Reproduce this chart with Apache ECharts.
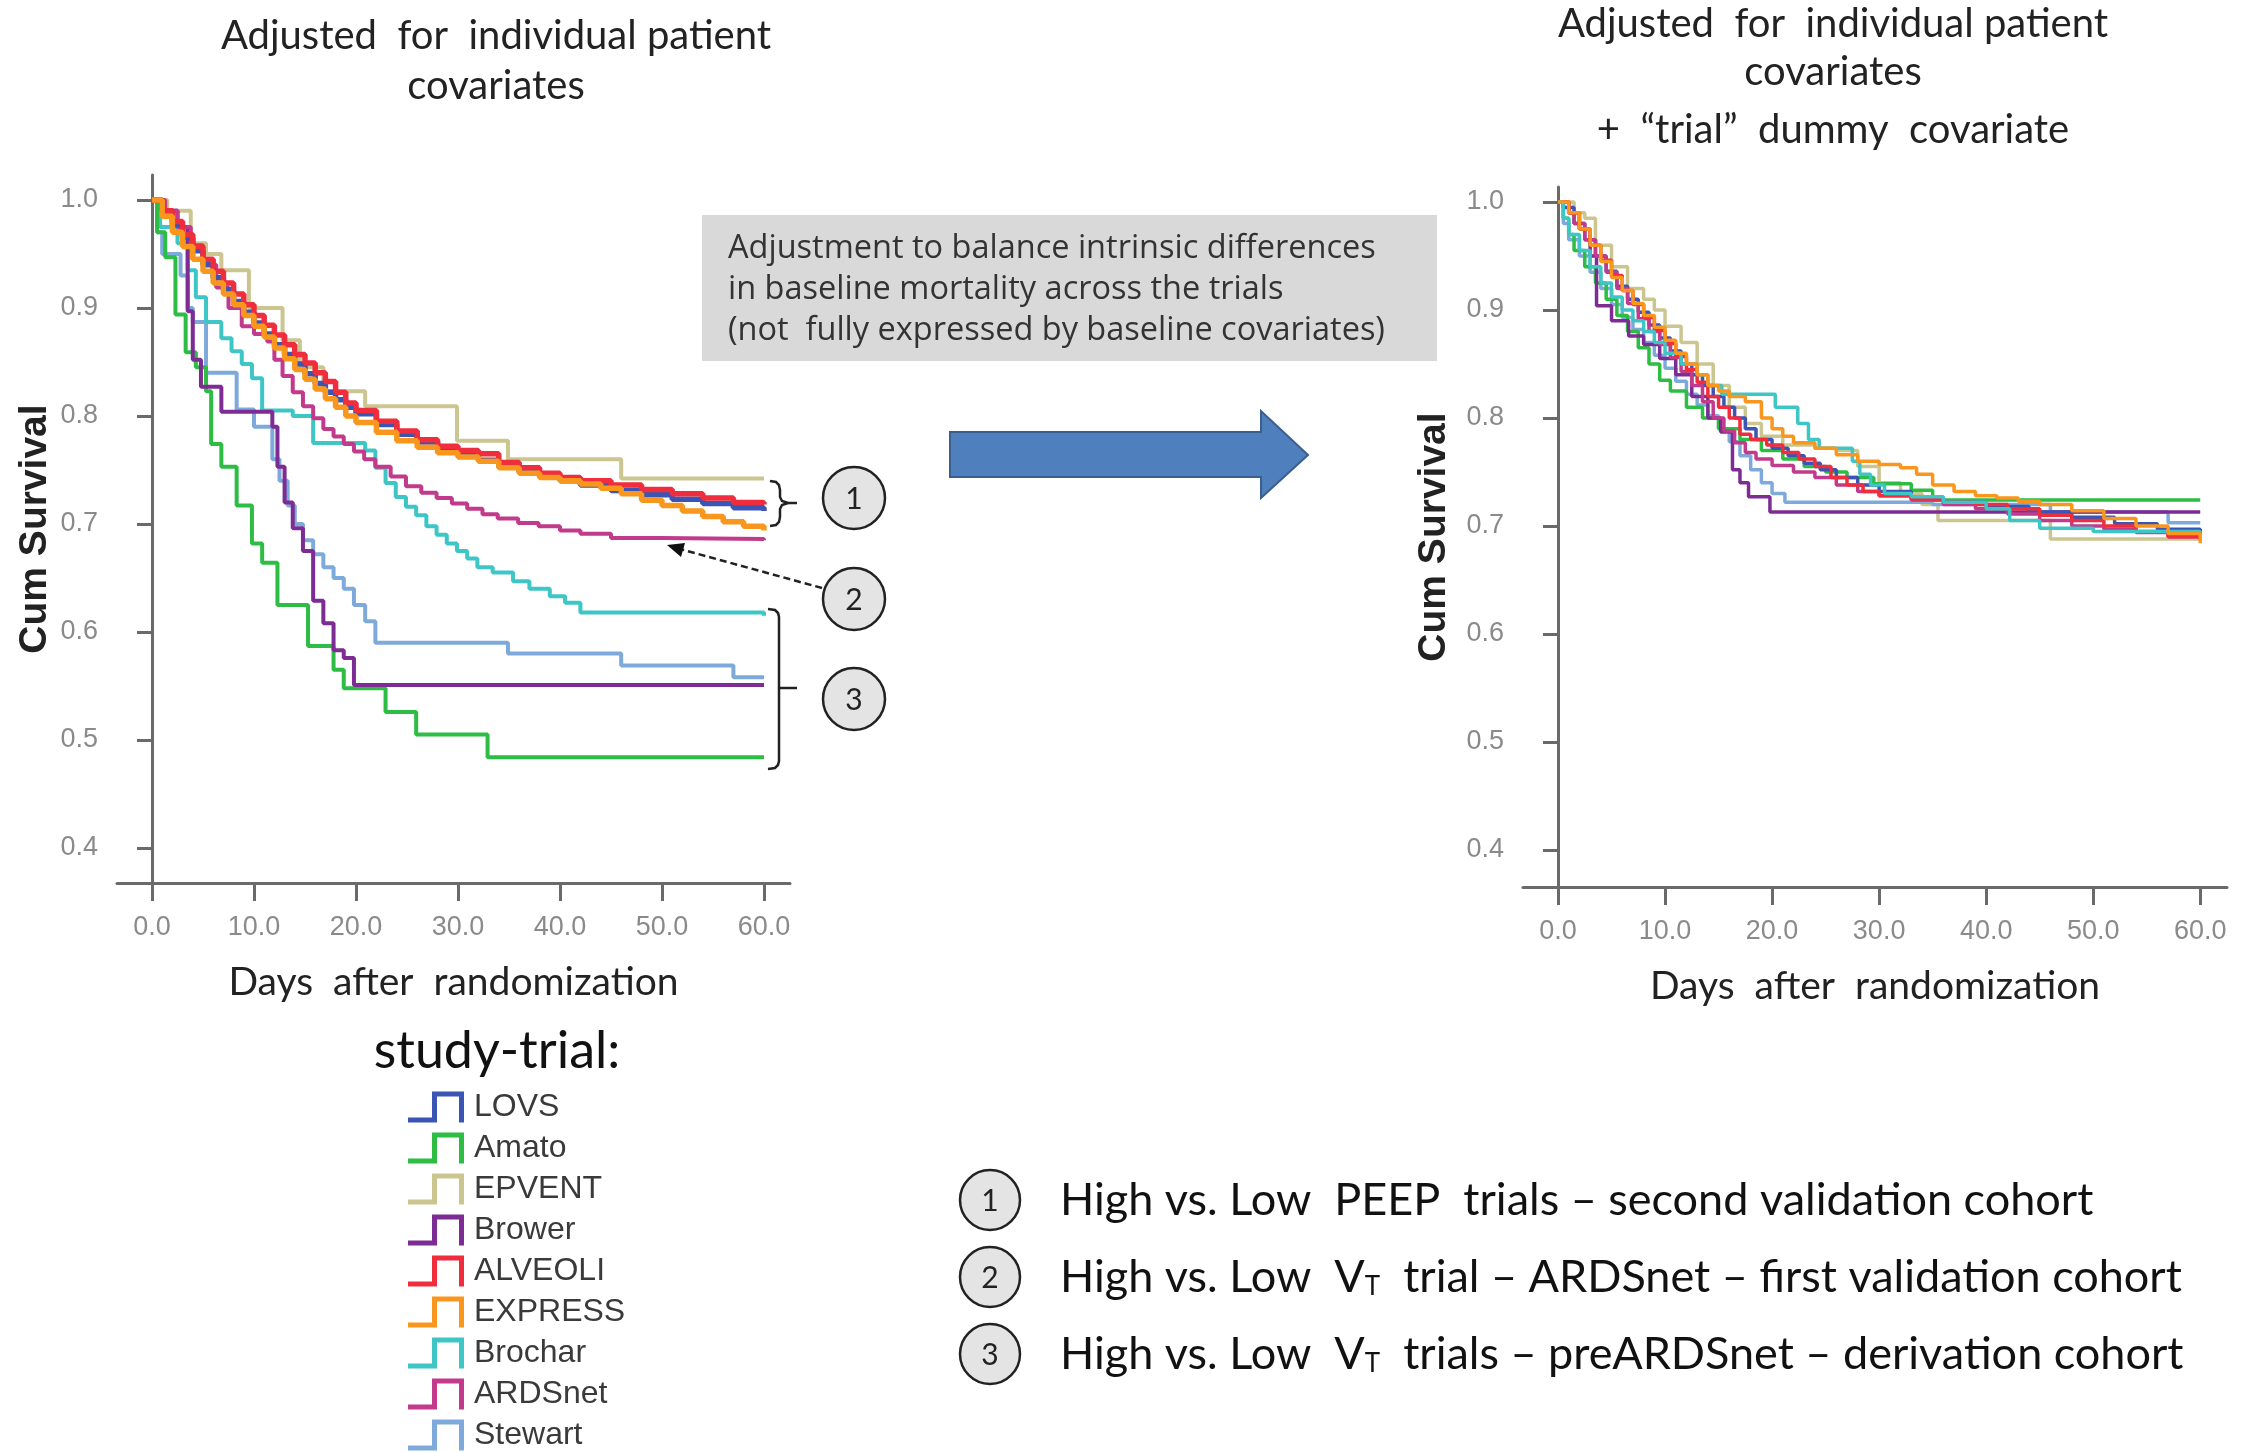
<!DOCTYPE html>
<html>
<head>
<meta charset="UTF-8">
<title>Cum Survival by study-trial</title>
<script src="https://cdn.jsdelivr.net/npm/echarts@6/dist/echarts.min.js"></script>
<style>
html,body{margin:0;padding:0;background:#fff;}
#main{width:2246px;height:1453px;}
</style>
</head>
<body>
<div id="main"></div>
<script>
// study-trial names and their colours
var trials = ['LOVS', 'Amato', 'EPVENT', 'Brower', 'ALVEOLI', 'EXPRESS', 'Brochar', 'ARDSnet', 'Stewart'];
var colors = {
  LOVS: '#3b55b5', Amato: '#2dbd45', EPVENT: '#cbc58f', Brower: '#7d2c93', ALVEOLI: '#ef2d3c',
  EXPRESS: '#f8961e', Brochar: '#3ec6c6', ARDSnet: '#c23a8c', Stewart: '#7eaadb'
};
var dayTicks = [0, 10, 20, 30, 40, 50, 60];
var survTicks = [0.4, 0.5, 0.6, 0.7, 0.8, 0.9, 1.0];

// left panel: adjusted for individual patient covariates  [day, cum survival]
var leftLOVS = [[0,1],[1,0.99],[2,0.977],[3,0.965],[4,0.953],[5,0.94],[6,0.928],[7,0.917],[8,0.906],[9,0.896],[10,0.886],[11,0.876],[12,0.866],[13,0.857],[14,0.848],[15,0.839],[16,0.83],[17,0.822],[18,0.815],[19,0.808],[20,0.802],[22,0.792],[24,0.783],[26,0.776],[28,0.77],[30,0.765],[32,0.759],[34,0.753],[36,0.748],[38,0.744],[40,0.74],[42,0.736],[45,0.731],[48,0.727],[51,0.723],[54,0.719],[57,0.715],[60,0.712]];
var leftAmato = [[0,1],[0.5,0.97],[1.3,0.947],[2.3,0.894],[3.3,0.859],[4.3,0.845],[5.3,0.823],[5.8,0.774],[6.8,0.753],[8.3,0.717],[9.8,0.682],[10.8,0.664],[12.3,0.625],[15.3,0.587],[17.8,0.565],[18.8,0.548],[22.9,0.526],[25.9,0.505],[32.9,0.484],[60,0.484]];
var leftEPVENT = [[0,1],[1.5,0.99],[3.8,0.96],[5.3,0.95],[6.8,0.935],[9.5,0.9],[12.8,0.87],[14.5,0.845],[16.8,0.823],[20.9,0.809],[29.9,0.777],[34.9,0.76],[46,0.742],[60,0.742]];
var leftBrower = [[0,1],[1,0.99],[2.5,0.975],[3.5,0.897],[4,0.852],[4.8,0.827],[6.8,0.804],[11.8,0.79],[12.3,0.753],[13,0.72],[13.8,0.696],[14.8,0.675],[15.8,0.629],[16.8,0.608],[17.8,0.583],[18.8,0.576],[19.8,0.551],[60,0.551]];
var leftALVEOLI = [[0,1],[1,0.99],[2,0.98],[3,0.968],[4,0.957],[5,0.945],[6,0.934],[7,0.923],[8,0.913],[9,0.903],[10,0.893],[11,0.884],[12,0.875],[13,0.866],[14,0.857],[15,0.849],[16,0.84],[17,0.832],[18,0.822],[19,0.812],[20,0.805],[22,0.795],[24,0.786],[26,0.778],[28,0.772],[30,0.768],[32,0.765],[34,0.757],[36,0.752],[38,0.747],[40,0.743],[42,0.74],[45,0.736],[48,0.732],[51,0.728],[54,0.724],[57,0.72],[60,0.718]];
var leftEXPRESS = [[0,1],[1,0.985],[2,0.97],[3,0.957],[4,0.945],[5,0.934],[6,0.923],[7,0.913],[8,0.903],[9,0.893],[10,0.883],[11,0.873],[12,0.863],[13,0.853],[14,0.843],[15,0.834],[16,0.825],[17,0.816],[18,0.808],[19,0.8],[20,0.794],[22,0.785],[24,0.777],[26,0.771],[28,0.766],[30,0.762],[32,0.758],[34,0.752],[36,0.747],[38,0.743],[40,0.74],[42,0.737],[44,0.733],[46,0.728],[48,0.722],[50,0.717],[52,0.712],[54,0.707],[56,0.702],[58,0.698],[60,0.694]];
var leftBrochar = [[0,1],[0.8,0.975],[2.5,0.96],[3.5,0.935],[4.3,0.91],[5.3,0.887],[6.8,0.872],[7.8,0.86],[8.8,0.848],[9.8,0.835],[10.8,0.805],[13.8,0.8],[15.8,0.775],[20.9,0.768],[21.9,0.752],[22.9,0.738],[23.9,0.725],[24.9,0.716],[25.9,0.708],[26.9,0.698],[27.9,0.69],[28.9,0.682],[29.9,0.675],[30.9,0.668],[31.9,0.66],[33.4,0.655],[35.4,0.647],[37,0.64],[39,0.633],[40.5,0.627],[42,0.618],[60,0.615]];
var leftARDSnet = [[0,1],[1.3,0.99],[2.5,0.975],[3.8,0.958],[5,0.94],[6.3,0.919],[7.5,0.9],[8.8,0.883],[10,0.876],[11.3,0.869],[12,0.852],[12.8,0.837],[13.8,0.822],[14.8,0.809],[15.8,0.798],[16.8,0.788],[17.8,0.781],[18.8,0.774],[19.8,0.767],[20.8,0.76],[21.9,0.753],[23.4,0.744],[24.9,0.735],[26.4,0.729],[27.9,0.724],[29.4,0.719],[30.9,0.714],[32.4,0.709],[33.9,0.705],[35.9,0.701],[37.9,0.698],[40,0.694],[42,0.691],[45,0.687],[50,0.686],[60,0.685]];
var leftStewart = [[0,1],[0.5,0.97],[1,0.95],[2.8,0.93],[3.5,0.9],[4,0.887],[5.3,0.84],[8.3,0.806],[10,0.79],[11.8,0.76],[12.5,0.74],[13.3,0.717],[14,0.7],[14.8,0.685],[15.8,0.672],[16.8,0.66],[17.8,0.65],[18.8,0.64],[19.8,0.625],[20.9,0.61],[21.9,0.59],[34.9,0.58],[46,0.569],[57,0.558],[60,0.558]];

// right panel: adjusted for covariates + "trial" dummy covariate
var rightLOVS = [[0,1],[0.5,0.995],[1.5,0.98],[2.5,0.965],[3.5,0.95],[4.5,0.936],[5.5,0.922],[6.5,0.91],[7.5,0.898],[8.5,0.886],[9.5,0.874],[10.5,0.862],[11.5,0.85],[12.5,0.84],[13.5,0.83],[14.5,0.82],[15.5,0.81],[16.5,0.8],[17.5,0.79],[18.5,0.78],[20,0.772],[21.5,0.765],[23,0.758],[24.5,0.752],[26,0.745],[28,0.738],[30,0.732],[33,0.726],[36,0.722],[40,0.718],[44,0.713],[48,0.708],[52,0.702],[56,0.697],[60,0.693]];
var rightAmato = [[0,1],[0.5,0.985],[1,0.97],[1.5,0.955],[2.5,0.94],[3.5,0.925],[4.5,0.91],[5.5,0.895],[6.5,0.88],[7.5,0.865],[8.5,0.85],[9.5,0.835],[10.5,0.825],[12,0.81],[13.5,0.8],[15,0.79],[17,0.78],[19,0.77],[21,0.762],[23,0.755],[25,0.75],[27,0.745],[29.5,0.739],[33,0.733],[35,0.724],[60,0.724]];
var rightEPVENT = [[0,1],[1.5,0.99],[2.5,0.985],[3.5,0.96],[5,0.94],[6.5,0.92],[8,0.91],[9,0.9],[10,0.885],[11.5,0.87],[13,0.85],[14.5,0.83],[16,0.81],[17.5,0.795],[19,0.783],[21,0.775],[24,0.772],[26,0.77],[28,0.755],[30,0.74],[32,0.73],[34,0.72],[35.5,0.705],[46,0.688],[60,0.686]];
var rightBrower = [[0,1],[1,0.99],[2,0.975],[3,0.95],[3.6,0.904],[5,0.89],[6.6,0.876],[8,0.868],[9.5,0.855],[11,0.84],[12.5,0.82],[14,0.8],[15.2,0.787],[16.3,0.752],[17,0.74],[17.8,0.727],[19.8,0.713],[60,0.713]];
var rightALVEOLI = [[0,1],[1,0.99],[2,0.975],[3,0.96],[4,0.946],[5,0.932],[6,0.918],[7,0.905],[8,0.893],[9,0.881],[10,0.869],[11,0.857],[12,0.845],[13,0.833],[14,0.82],[15,0.81],[16,0.8],[17,0.785],[18,0.78],[19.5,0.775],[21,0.768],[22.5,0.762],[24,0.755],[25.5,0.745],[27,0.738],[28.5,0.732],[30,0.728],[33,0.725],[36,0.722],[39,0.72],[42,0.716],[45,0.71],[48,0.705],[51,0.7],[54,0.695],[57,0.69],[60,0.687]];
var rightEXPRESS = [[0,1],[1,0.99],[2,0.975],[3,0.96],[4,0.945],[5,0.93],[6,0.918],[7,0.906],[8,0.895],[9,0.884],[10,0.872],[11,0.86],[12,0.85],[13,0.84],[14,0.83],[15,0.825],[16,0.82],[17.5,0.815],[19,0.8],[20,0.79],[21,0.783],[22,0.777],[24,0.772],[26,0.766],[28,0.76],[30,0.757],[32,0.754],[33.5,0.748],[35,0.738],[37,0.732],[39,0.728],[41,0.726],[43,0.723],[45,0.72],[48,0.714],[51,0.707],[54,0.7],[57,0.693],[60,0.684]];
var rightBrochar = [[0,1],[0.5,0.985],[1,0.97],[2,0.955],[3,0.94],[4,0.925],[5,0.912],[6,0.9],[7,0.89],[8,0.88],[9,0.87],[10,0.86],[11.5,0.85],[13,0.84],[14,0.83],[15.3,0.822],[20.3,0.81],[22.4,0.795],[23.4,0.78],[24.4,0.772],[27.5,0.76],[28.2,0.748],[29.2,0.738],[30.5,0.73],[33,0.727],[36,0.722],[40,0.716],[42.2,0.705],[45,0.698],[50,0.695],[60,0.694]];
var rightARDSnet = [[0,1],[1,0.99],[1.5,0.98],[2.5,0.965],[3.5,0.95],[4.5,0.935],[5.5,0.92],[6.5,0.906],[7.5,0.892],[8.5,0.88],[9.5,0.868],[10.5,0.856],[11.5,0.843],[12.5,0.83],[13.5,0.815],[14.5,0.8],[15.5,0.788],[16.5,0.777],[17.5,0.768],[18.5,0.762],[20,0.756],[22,0.75],[24,0.745],[26,0.738],[28,0.732],[30,0.728],[33,0.724],[36,0.72],[39,0.716],[42,0.711],[45,0.705],[48,0.7],[51,0.697],[54,0.694],[57,0.69],[60,0.688]];
var rightStewart = [[0,1],[0.5,0.98],[1,0.965],[2,0.95],[3,0.935],[4,0.92],[5,0.905],[6,0.893],[7,0.882],[8,0.87],[9,0.858],[10,0.846],[11,0.834],[12,0.822],[13,0.812],[14,0.802],[15,0.79],[16,0.778],[17,0.765],[18,0.752],[19,0.74],[20,0.73],[21.2,0.722],[35,0.72],[46,0.713],[57,0.703],[60,0.703]];

var leftData = {LOVS: leftLOVS, Amato: leftAmato, EPVENT: leftEPVENT, Brower: leftBrower, ALVEOLI: leftALVEOLI,
  EXPRESS: leftEXPRESS, Brochar: leftBrochar, ARDSnet: leftARDSnet, Stewart: leftStewart};
var rightData = {LOVS: rightLOVS, Amato: rightAmato, EPVENT: rightEPVENT, Brower: rightBrower, ALVEOLI: rightALVEOLI,
  EXPRESS: rightEXPRESS, Brochar: rightBrochar, ARDSnet: rightARDSnet, Stewart: rightStewart};
// drawing order (last on top)
var leftOrder = ['EPVENT', 'Stewart', 'Brochar', 'Amato', 'Brower', 'ARDSnet', 'LOVS', 'ALVEOLI', 'EXPRESS'];
var rightOrder = ['EPVENT', 'Stewart', 'Amato', 'Brower', 'LOVS', 'ARDSnet', 'ALVEOLI', 'Brochar', 'EXPRESS'];

var calibri = 'Lato, "Noto Sans", sans-serif';
var arial = '"Liberation Sans", Arial, sans-serif';
var narrow = '"Liberation Sans Narrow", "Liberation Sans", sans-serif';

function makeX(idx, min, max) {
  return {
    type: 'value', gridIndex: idx, min: min, max: max,
    name: 'Days  after  randomization', nameLocation: 'middle', nameGap: 80,
    nameTextStyle: {fontFamily: calibri, fontSize: 39, color: '#222'},
    axisLine: {lineStyle: {color: '#6a6a6a', width: 3}},
    axisTick: {show: true, customValues: dayTicks, length: 18, lineStyle: {color: '#6a6a6a', width: 3}},
    axisLabel: {customValues: dayTicks, margin: 31, fontFamily: narrow, fontSize: 27, color: '#8a8a8a',
      formatter: function (v) { return v.toFixed(1); }},
    splitLine: {show: false}
  };
}
function makeY(idx, min, max, gap) {
  return {
    type: 'value', gridIndex: idx, min: min, max: max,
    name: 'Cum Survival', nameLocation: 'middle', nameRotate: 90, nameGap: gap,
    nameTextStyle: {fontFamily: arial, fontSize: 39, fontWeight: 'bold', color: '#222'},
    axisLine: {show: true, lineStyle: {color: '#6a6a6a', width: 3}},
    axisTick: {show: true, customValues: survTicks, length: 15, lineStyle: {color: '#6a6a6a', width: 3}},
    axisLabel: {customValues: survTicks, margin: 19, fontFamily: narrow, fontSize: 27, color: '#8a8a8a',
      formatter: function (v) { return v.toFixed(1); }},
    splitLine: {show: false}
  };
}

var series = [];
leftOrder.forEach(function (name) {
  var wide = (name === 'LOVS' || name === 'ALVEOLI' || name === 'EXPRESS');
  series.push({name: name, type: 'line', step: 'end', xAxisIndex: 0, yAxisIndex: 0, data: leftData[name],
    showSymbol: false, color: colors[name], lineStyle: {width: wide ? 5.5 : 4, color: colors[name]}, silent: true});
});
rightOrder.forEach(function (name) {
  series.push({name: name, type: 'line', step: 'end', xAxisIndex: 1, yAxisIndex: 1, data: rightData[name],
    showSymbol: false, color: colors[name], lineStyle: {width: 3.5, color: colors[name]}, silent: true});
});

// step-shaped legend marker
var stepIcon = 'path://M0,26 L24,26 L24,0 L56,0 L56,31 L51,31 L51,5 L29,5 L29,31 L0,31 Z';

function circleNum(cx, cy, r, label) {
  return [
    {type: 'circle', shape: {cx: cx, cy: cy, r: r}, style: {fill: '#e4e4e4', stroke: '#222', lineWidth: 2.5}},
    {type: 'text', x: cx, y: cy + 1, style: {text: label, fontFamily: calibri, fontSize: 30, fill: '#222',
      align: 'center', verticalAlign: 'middle'}}
  ];
}
function textAt(x, y, str, size, align, extra) {
  var st = {text: str, fontFamily: calibri, fontSize: size, fill: '#222', align: align, verticalAlign: 'middle'};
  if (extra) { for (var k in extra) st[k] = extra[k]; }
  return {type: 'text', x: x, y: y, style: st};
}
function polyline(pts) {
  return {type: 'polyline', shape: {points: pts}, style: {fill: null, stroke: '#222', lineWidth: 2.5}};
}

var boxFont = {fontFamily: '"Open Sans", sans-serif', fill: '#333'};
var graphics = [
  // panel titles
  textAt(496, 36, 'Adjusted  for  individual patient', 40, 'center'),
  textAt(496, 86, 'covariates', 40, 'center'),
  textAt(1833, 24, 'Adjusted  for  individual patient', 40, 'center'),
  textAt(1833, 72, 'covariates', 40, 'center'),
  textAt(1833, 130, '+  \u201ctrial\u201d  dummy  covariate', 40, 'center'),
  // grey note box
  {type: 'rect', shape: {x: 702, y: 215, width: 735, height: 146}, style: {fill: '#d9d9d9'}},
  textAt(728, 249, 'Adjustment to balance intrinsic differences', 32.5, 'left', boxFont),
  textAt(728, 290, 'in baseline mortality across the trials', 32.5, 'left', boxFont),
  textAt(728, 331, '(not  fully expressed by baseline covariates)', 32.5, 'left', boxFont),
  // big blue arrow
  {type: 'polygon', shape: {points: [[950, 432], [1261, 432], [1261, 411], [1308, 455], [1261, 498], [1261, 477], [950, 477]]},
    style: {fill: '#4f7fbd', stroke: '#3a5f8e', lineWidth: 2}},
  // brackets
  polyline([[770, 481], [776, 482], [779, 485], [780, 490], [780, 497], [782, 501], [788, 503], [797, 503]]),
  polyline([[788, 503], [782, 505], [780, 509], [780, 517], [779, 522], [776, 525], [770, 526]]),
  polyline([[768, 609], [775, 610], [778, 613], [779, 617], [779, 761], [778, 765], [775, 768], [768, 769]]),
  polyline([[779, 688], [797, 688]]),
  // dashed pointer to ARDSnet
  {type: 'line', shape: {x1: 822, y1: 588, x2: 680, y2: 549}, style: {stroke: '#222', lineWidth: 2.5, lineDash: [7, 4]}},
  {type: 'polygon', shape: {points: [[667, 545], [685, 543], [681, 557]]}, style: {fill: '#111'}},
  // legend title
  textAt(497, 1051, 'study-trial:', 52, 'center', {fill: '#111'})
];
graphics = graphics.concat(circleNum(854, 498, 31, '1'), circleNum(854, 599, 31, '2'), circleNum(854, 699, 31, '3'));
graphics = graphics.concat(circleNum(990, 1200, 30, '1'), circleNum(990, 1277, 30, '2'), circleNum(990, 1354, 30, '3'));
var listRich = {sub: {fontFamily: calibri, fontSize: 26, fill: '#111', lineHeight: 12, verticalAlign: 'bottom'}};
graphics.push(textAt(1060, 1200, 'High vs. Low  PEEP  trials \u2013 second validation cohort', 45, 'left', {fill: '#111'}));
graphics.push(textAt(1060, 1277, 'High vs. Low  V{sub|T}  trial \u2013 ARDSnet \u2013 first validation cohort', 45, 'left', {fill: '#111', rich: listRich}));
graphics.push(textAt(1060, 1354, 'High vs. Low  V{sub|T}  trials \u2013 preARDSnet \u2013 derivation cohort', 45, 'left', {fill: '#111', rich: listRich}));

var chart = echarts.init(document.getElementById('main'), null, {renderer: 'canvas'});
chart.setOption({
  backgroundColor: '#fff',
  animation: false,
  grid: [
    {left: 117, top: 175, width: 673, height: 708},
    {left: 1523, top: 187, width: 704, height: 700}
  ],
  xAxis: [makeX(0, -3.43, 62.55), makeX(1, -3.27, 62.5)],
  yAxis: [makeY(0, 0.3676, 1.0231, 62), makeY(1, 0.3657, 1.0139, 69)],
  legend: {
    orient: 'vertical', left: 408, top: 1091, height: 420, padding: 0, itemGap: 9,
    itemWidth: 56, itemHeight: 31, icon: stepIcon, data: trials,
    textStyle: {fontFamily: arial, fontSize: 32, lineHeight: 31, color: '#3a3a3a', padding: [0, 0, 0, 5]},
    selectedMode: false
  },
  series: series,
  graphic: graphics
});
</script>
</body>
</html>
